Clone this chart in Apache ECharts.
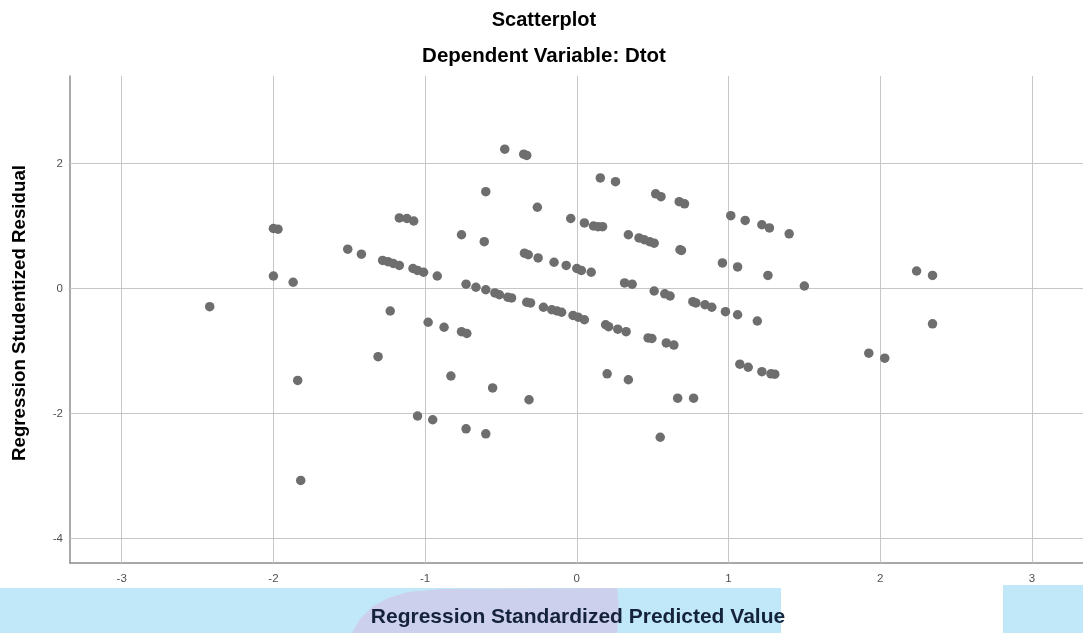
<!DOCTYPE html>
<html><head><meta charset="utf-8">
<script src="https://cdn.jsdelivr.net/npm/echarts@6/dist/echarts.min.js"></script>
<style>html,body{margin:0;padding:0;background:#fff}#c{width:1083px;height:633px}</style>
</head><body><div id="c"></div>
<script>
const titleText = "Scatterplot";
const subtitleText = "Dependent Variable: Dtot";
const xAxisName = "Regression Standardized Predicted Value";
const yAxisName = "Regression Studentized Residual";
const xTicks = [-3, -2, -1, 0, 1, 2, 3];
const yTicks = [-4, -2, 0, 2];
const predicted = [
 -2.42,-2.00,-1.97,-2.00,-1.87,-1.51,-1.42,-1.17,-1.12,-1.075,
 -1.28,-1.245,-1.21,-1.17,-1.08,-1.05,-1.01,-0.92,-1.23,-0.98,
 -0.875,-1.31,-1.84,-1.05,-0.95,-1.82,-0.83,-0.475,-0.35,-0.33,
 -0.60,-0.26,0.155,0.255,-0.76,-0.61,-0.04,0.05,0.11,0.14,
 0.17,0.34,0.41,-0.345,-0.32,-0.255,-0.15,-0.07,0.00,0.03,
 0.095,-0.73,-0.665,-0.60,-0.54,-0.51,-0.455,-0.43,-0.33,-0.305,
 -0.22,-0.165,-0.13,-0.10,-0.025,0.01,0.05,0.315,0.365,0.19,
 0.21,0.27,0.325,-0.76,-0.725,-0.555,-0.315,0.20,0.34,-0.73,
 -0.60,0.52,0.555,0.675,0.71,0.445,0.48,0.51,0.68,0.69,
 1.015,1.11,1.22,1.27,1.40,0.96,1.06,1.26,1.50,0.51,
 0.58,0.615,0.765,0.785,0.845,0.89,0.98,1.06,1.19,0.47,
 0.495,0.59,0.64,1.075,1.13,1.22,1.28,1.305,0.665,0.77,
 0.55,2.24,2.345,2.345,1.925,2.03
];
const residual = [
 -0.29,0.96,0.95,0.20,0.10,0.63,0.55,1.13,1.12,1.08,
 0.45,0.43,0.40,0.37,0.32,0.29,0.26,0.20,-0.36,-0.54,
 -0.62,-1.09,-1.47,-2.04,-2.10,-3.07,-1.40,2.23,2.15,2.13,
 1.55,1.30,1.77,1.71,0.86,0.75,1.12,1.05,1.00,0.99,
 0.99,0.86,0.81,0.565,0.54,0.49,0.42,0.37,0.32,0.29,
 0.26,0.07,0.02,-0.02,-0.07,-0.10,-0.14,-0.15,-0.22,-0.23,
 -0.30,-0.34,-0.36,-0.38,-0.43,-0.46,-0.50,0.09,0.07,-0.58,
 -0.61,-0.65,-0.69,-0.69,-0.72,-1.59,-1.78,-1.365,-1.46,-2.245,
 -2.325,1.515,1.47,1.39,1.355,0.78,0.75,0.725,0.62,0.61,
 1.165,1.09,1.02,0.97,0.875,0.41,0.345,0.21,0.04,-0.04,
 -0.085,-0.12,-0.21,-0.23,-0.26,-0.30,-0.37,-0.42,-0.52,-0.79,
 -0.80,-0.87,-0.905,-1.21,-1.26,-1.33,-1.365,-1.37,-1.755,-1.755,
 -2.38,0.28,0.21,-0.565,-1.035,-1.115
];
const points = predicted.map((x, i) => [x, residual[i]]);

const chart = echarts.init(document.getElementById('c'), null, {renderer: 'canvas'});
chart.setOption({
  animation: false,
  backgroundColor: '#ffffff',
  graphic: [
    {type: 'rect', x: 0, y: 588, shape: {x: 0, y: 0, width: 781, height: 45}, style: {fill: '#c1e8f8'}, z: -10},
    {type: 'polygon', shape: {points: [[352,633],[360,619],[372,607],[388,598],[408,592],[440,589],[617,588],[619,610],[617,633]]}, style: {fill: '#ccd0ec'}, z: -9},
    {type: 'rect', x: 1003, y: 585, shape: {x: 0, y: 0, width: 80, height: 48}, style: {fill: '#c1e8f8'}, z: -10},
    {type: 'text', x: 544, y: 20, style: {text: titleText, font: 'bold 20px "Liberation Sans", Arial', fill: '#000', align: 'center', verticalAlign: 'middle'}, z: 10},
    {type: 'text', x: 544, y: 56, style: {text: subtitleText, font: 'bold 20.5px "Liberation Sans", Arial', fill: '#000', align: 'center', verticalAlign: 'middle'}, z: 10},
    {type: 'text', x: 578, y: 617, style: {text: xAxisName, font: 'bold 21px "Liberation Sans", Arial', fill: '#14233a', align: 'center', verticalAlign: 'middle'}, z: 10},
    {type: 'text', x: 20, y: 313, rotation: Math.PI / 2, style: {text: yAxisName, font: 'bold 18.7px "Liberation Sans", Arial', fill: '#000', align: 'center', verticalAlign: 'middle'}, z: 10}
  ],
  grid: {left: 70, top: 76, width: 1017, height: 487},
  xAxis: {
    type: 'value', min: -3.341, max: 3.337,
    axisLine: {show: true, onZero: false, lineStyle: {color: '#8c8c8c', width: 1.5}},
    axisTick: {show: false},
    splitLine: {show: false},
    axisLabel: {show: false}
  },
  yAxis: {
    type: 'value', min: -4.392, max: 3.40,
    axisLine: {show: true, onZero: false, lineStyle: {color: '#8c8c8c', width: 1.5}},
    axisTick: {show: false},
    splitLine: {show: false},
    axisLabel: {show: false}
  },
  series: [
    {
      type: 'scatter', data: [], silent: true, z: 1,
      markLine: {silent: true, symbol: 'none', label: {show: false}, lineStyle: {color: '#c6c6c6', width: 1, type: 'solid'},
        data: xTicks.map(v => ({xAxis: v})).concat(yTicks.map(v => ({yAxis: v})))}
    },
    {
      type: 'scatter', data: xTicks.map(v => [v, -4.392]), symbolSize: 0, silent: true,
      label: {show: true, position: 'bottom', distance: 10, formatter: p => String(p.value[0]), fontFamily: 'Liberation Sans, Arial', fontSize: 11.5, color: '#222'}
    },
    {
      type: 'scatter', data: yTicks.map(v => [-3.341, v]), symbolSize: 0, silent: true,
      label: {show: true, position: 'left', distance: 7, formatter: p => String(p.value[1]), fontFamily: 'Liberation Sans, Arial', fontSize: 11.5, color: '#222'}
    },
    {
      type: 'scatter', data: points, symbol: 'circle', symbolSize: 9.5, z: 5,
      itemStyle: {color: '#6e6e6e', opacity: 1}
    }
  ]
});
</script></body></html>
